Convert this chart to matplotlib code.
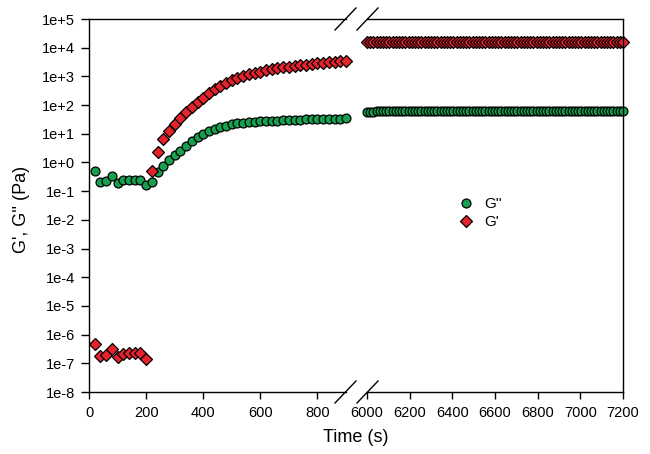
import numpy as np
import matplotlib
matplotlib.use("Agg")
import matplotlib.pyplot as plt
from matplotlib.lines import Line2D

plt.rcParams['font.family'] = ['Liberation Sans', 'DejaVu Sans']

# --- data (Pa) ---
t_left = np.arange(20, 901, 20)
g2_left = [0.50, 0.21, 0.22, 0.35, 0.20, 0.24, 0.25, 0.25, 0.24, 0.17,
           0.21, 0.46, 0.78, 1.2, 1.8, 2.5, 3.7, 5.5, 7.9, 10.0,
           12.6, 15.1, 17.4, 19.1, 21.4, 22.9, 24.0, 25.1, 26.3, 26.9,
           27.5, 28.2, 28.8, 29.5, 30.2, 30.2, 30.9, 31.6, 31.6, 32.4,
           33.1, 33.1, 33.9, 33.9, 34.7]
g1_left = [4.7e-7, 1.8e-7, 1.95e-7, 3.1e-7, 1.7e-7, 2.1e-7, 2.2e-7, 2.2e-7, 2.25e-7, 1.4e-7,
           0.50, 2.4, 6.6, 12.9, 21.9, 36.3, 56.2, 83.2, 126, 182,
           257, 355, 468, 603, 741, 891, 1047, 1202, 1349, 1479,
           1622, 1778, 1905, 2042, 2188, 2291, 2455, 2570, 2692, 2818,
           2951, 3090, 3162, 3311, 3548]

t_right = np.arange(6000, 7201, 15)
g2_right = [59, 59, 59, 60, 60, 60, 60, 60, 60, 60,
            60, 60, 60, 61, 61, 61, 61, 61, 61, 61,
            61, 61, 61, 61, 61, 61, 61, 61, 61, 61,
            61, 61, 61, 61, 61, 61, 61, 61, 61, 61,
            61, 61, 61, 61, 61, 61, 61, 62, 62, 62,
            62, 62, 62, 62, 62, 62, 62, 62, 62, 62,
            62, 62, 62, 62, 62, 62, 62, 62, 62, 62,
            62, 62, 62, 62, 62, 62, 62, 62, 62, 62,
            62]
g1_right = [16000, 16000, 16000, 16100, 16100, 16100, 16100, 16100, 16100, 16100,
            16100, 16100, 16100, 16100, 16100, 16100, 16200, 16200, 16200, 16200,
            16200, 16200, 16200, 16200, 16200, 16200, 16200, 16200, 16200, 16200,
            16200, 16200, 16200, 16200, 16200, 16200, 16200, 16200, 16200, 16200,
            16200, 16200, 16200, 16200, 16200, 16200, 16200, 16200, 16200, 16200,
            16200, 16200, 16200, 16200, 16200, 16300, 16300, 16300, 16300, 16300,
            16300, 16300, 16300, 16300, 16300, 16300, 16300, 16300, 16300, 16300,
            16300, 16300, 16300, 16300, 16300, 16300, 16300, 16300, 16300, 16300,
            16300]

y_exp = list(range(-8, 6))
left_ticks = [0, 200, 400, 600, 800]
right_ticks = [6000, 6200, 6400, 6600, 6800, 7000, 7200]

green = '#17a04f'
red = '#e5232c'

W, H = 650, 454
fig = plt.figure(figsize=(W / 100, H / 100), dpi=100)

top, bot = 19, 392
ax1 = fig.add_axes([89 / W, 1 - bot / H, (346 - 89) / W, (bot - top) / H])
ax2 = fig.add_axes([367 / W, 1 - bot / H, (623 - 367) / W, (bot - top) / H])

mk = dict(linestyle='none', markeredgecolor='black', markeredgewidth=0.9, clip_on=False)
for ax, t, g2, g1 in [(ax1, t_left, g2_left, g1_left), (ax2, t_right, g2_right, g1_right)]:
    l2, = ax.plot(t, g2, marker='o', markersize=6.4, markerfacecolor=green, **mk)
    l1, = ax.plot(t, g1, marker='D', markersize=6.2, markerfacecolor=red, **mk)
    ax.set_yscale('log')
    ax.set_ylim(1e-8, 1e5)
    ax.minorticks_off()
    for s in ax.spines.values():
        s.set_linewidth(1.0)
    ax.tick_params(axis='both', direction='out', labelsize=10.5, width=1.0)
    ax.tick_params(axis='x', length=5, pad=5)

ax1.set_xlim(0, 900)
ax1.set_xticks(left_ticks)
ax1.spines['right'].set_visible(False)
ax1.set_yticks([10.0 ** e for e in y_exp])
ax1.set_yticklabels(['1e%+d' % e for e in y_exp])
ax1.tick_params(axis='y', length=6, pad=4)

ax2.set_xlim(6000, 7200)
ax2.set_xticks(right_ticks)
ax2.spines['left'].set_visible(False)
ax2.set_yticks([])
ax2.tick_params(axis='y', left=False, right=False, labelleft=False)

# axis break marks
for yb in (top, bot):
    for x0 in (335, 357):
        fig.add_artist(Line2D([x0 / W, (x0 + 21) / W],
                              [1 - (yb + 11) / H, 1 - (yb - 11) / H],
                              color='black', linewidth=1.0, transform=fig.transFigure))

fig.text(356 / W, 1 - 437 / H, 'Time (s)', ha='center', va='center', fontsize=13)
fig.text(22 / W, 1 - 209 / H, "G', G'' (Pa)", ha='center', va='center',
         rotation=90, fontsize=13)

fig.legend([l2, l1], ["G''", "G'"], loc='center left',
           bbox_to_anchor=(451 / W, 1 - 213 / H), bbox_transform=fig.transFigure,
           frameon=False, fontsize=11, handlelength=1.0, handletextpad=0.7,
           borderpad=0, labelspacing=0.25)

fig.savefig('out.png', dpi=100)
